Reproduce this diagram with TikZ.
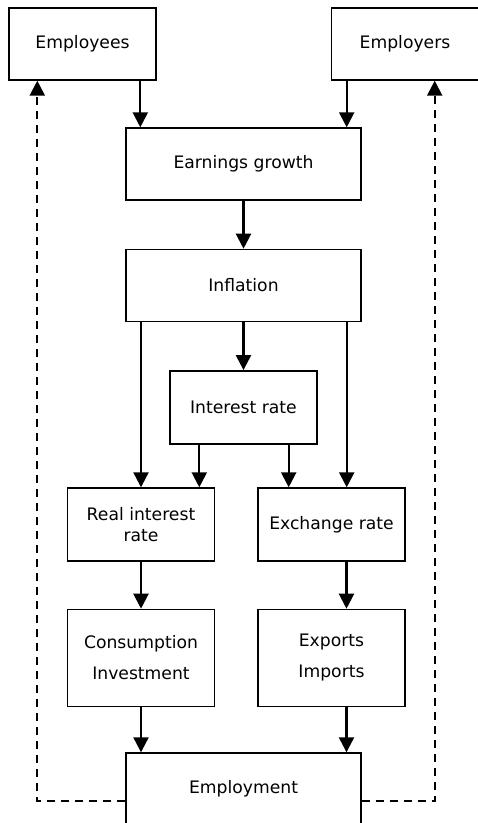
\documentclass[tikz,border=0pt]{standalone}
\usepackage{fontspec}
\setmainfont{DejaVu Sans}
\usepackage{tikz}
\usetikzlibrary{arrows.meta,positioning,calc}

\begin{document}
\begin{tikzpicture}[x=1pt,y=1pt,>={Triangle[length=15pt,width=15pt]},
 node distance=48pt and 10pt,
 box/.style={draw,line width=1.4pt,align=center,minimum height=72pt,minimum width=147pt,inner sep=0pt,
   font=\fontsize{17.2}{21}\selectfont},
 wide/.style={box,minimum width=235pt},
 arr/.style={->,line width=2.2pt},
 back/.style={->,line width=2.2pt,dash pattern=on 8pt off 6pt}]
\useasboundingbox (0,0) rectangle (478,-823);
\node[box] (emps) at (82.5,-44) {Employees};
\node[box] (emprs) at (405,-44) {Employers};
\node[wide] (earn) at (243.5,-164) {Earnings growth};
\node[wide,below=of earn] (infl) {Inflation};
\node[box,below=of infl,minimum height=73pt] (irate) {Interest rate};
\node[box,minimum height=73pt] (real) at (141,-524.5) {Real interest\\rate};
\node[box,minimum height=73pt] (exch) at (331.5,-524.5) {Exchange rate};
\node[box,below=47pt of real,minimum height=97pt] (cons) {Consumption\\[10pt]Investment};
\node[box,below=47pt of exch,minimum height=97pt] (expo) {Exports\\[10pt]Imports};
\node[wide] (emp) at (243.5,-789) {Employment};
% wages side
\draw[arr] ([xshift=15pt]earn.north west |- emps.south) -- ([xshift=15pt]earn.north west);
\draw[arr] ([xshift=-15pt]earn.north east |- emprs.south) -- ([xshift=-15pt]earn.north east);
\draw[arr] (earn) -- (infl);
\draw[arr] (infl) -- (irate);
\draw[arr] (real.north |- infl.south) -- (real.north);
\draw[arr] ([xshift=-15pt]infl.south east) coordinate (ie) -- (ie |- exch.north);
\draw[arr] ([xshift=30pt]irate.south west) coordinate (il) -- (il |- real.north);
\draw[arr] ([xshift=-29pt]irate.south east) coordinate (ir) -- (ir |- exch.north);
\draw[arr] (real) -- (cons);
\draw[arr] ([xshift=15pt]exch.south) -- ([xshift=15pt]expo.north);
\draw[arr] (cons.south) -- (cons.south |- emp.north);
\draw[arr] ([xshift=15pt]expo.south) coordinate (xe) -- (xe |- emp.north);
% feedback
\draw[back] ([yshift=-12pt]emp.west) -| ([xshift=29pt]emps.south west);
\draw[back] ([yshift=-12pt]emp.east) -| ([xshift=-44.5pt]emprs.south east);
\end{tikzpicture}
\end{document}
